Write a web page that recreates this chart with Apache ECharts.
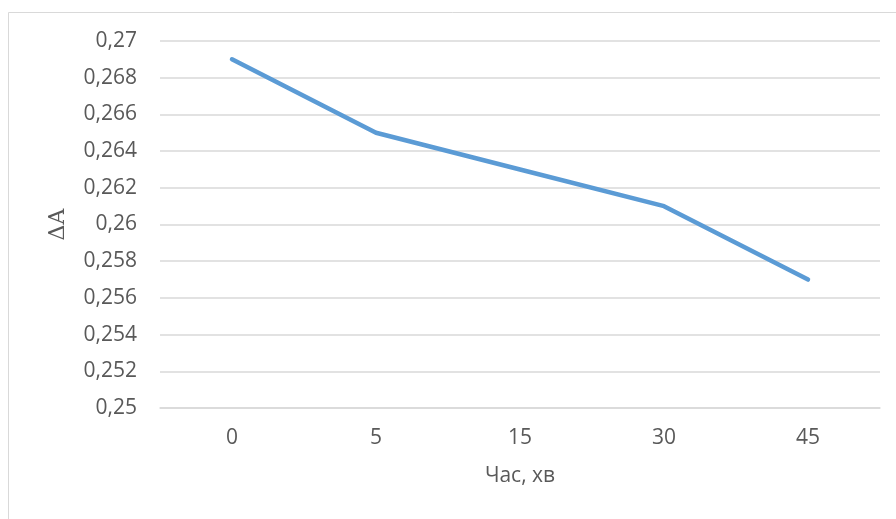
<!DOCTYPE html>
<html><head><meta charset="utf-8">
<script src="https://cdn.jsdelivr.net/npm/echarts@6/dist/echarts.min.js"></script>
<style>html,body{margin:0;padding:0;background:#fff}#c{width:896px;height:519px}</style>
</head><body><div id="c"></div>
<script>
const categories = ['0', '5', '15', '30', '45'];
const values = [0.269, 0.265, 0.263, 0.261, 0.257];
const yMin = 0.25, yMax = 0.27, yStep = 0.002;
const xName = 'Час, хв';
const yName = 'ΔA';

const chart = echarts.init(document.getElementById('c'), null, {renderer: 'canvas'});
const txt = '#595959';
chart.setOption({
  animation: false,
  backgroundColor: '#fff',
  graphic: [{type: 'rect', shape: {x: 8.5, y: 12.5, width: 1000, height: 1000},
    style: {fill: 'none', stroke: '#d9d9d9', lineWidth: 1}, silent: true}],
  grid: {left: 160, right: 16, top: 41, bottom: 111, containLabel: false},
  xAxis: {
    type: 'category', data: categories, boundaryGap: true,
    name: xName, nameLocation: 'middle', nameGap: 58,
    nameTextStyle: {color: txt, fontSize: 21, fontFamily: 'Open Sans'},
    axisLine: {show: true, lineStyle: {color: '#d9d9d9', width: 1.5}},
    axisTick: {show: false},
    axisLabel: {color: txt, fontSize: 21, fontFamily: 'Open Sans', margin: 20}
  },
  yAxis: {
    type: 'value', min: yMin, max: yMax, interval: yStep,
    name: yName, nameLocation: 'middle', nameRotate: 90, nameGap: 91,
    nameTextStyle: {color: txt, fontSize: 22, fontFamily: 'DejaVu Serif'},
    axisLine: {show: false}, axisTick: {show: false},
    splitLine: {lineStyle: {color: '#d9d9d9', width: 1.5}},
    axisLabel: {color: txt, fontSize: 21, fontFamily: 'Open Sans', margin: 23,
      formatter: v => String(+v.toFixed(3)).replace('.', ',')}
  },
  series: [{
    type: 'line', data: values, showSymbol: false, symbol: 'none',
    lineStyle: {color: '#5b9bd5', width: 4.5, cap: 'round', join: 'round'}
  }]
});
</script></body></html>
